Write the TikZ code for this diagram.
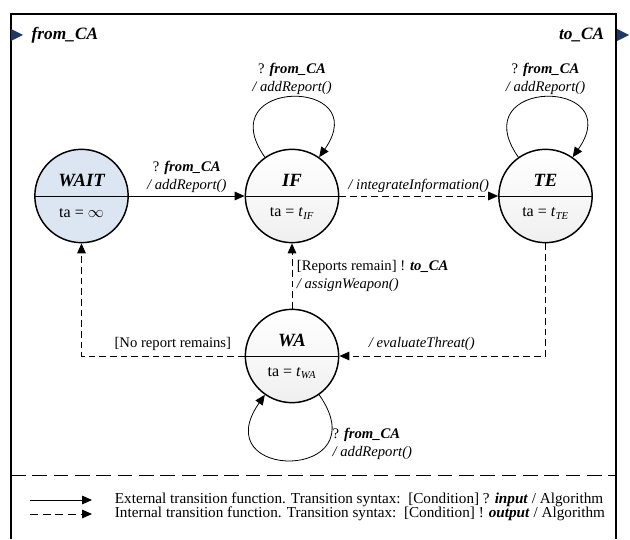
\documentclass[tikz,border=0pt]{standalone}
\usepackage{fontspec}
\setmainfont{Liberation Serif}
\usetikzlibrary{positioning,arrows.meta}

\definecolor{waitblue}{RGB}{220,230,242}
\definecolor{portblue}{RGB}{31,56,100}

\newcommand{\bi}[1]{\textbf{\textit{#1}}}

\begin{document}
\begin{tikzpicture}[x=0.75pt,y=0.75pt,>={Triangle[length=7.5pt,width=6.5pt]},
                    every node/.style={font=\fontsize{11}{13.5}\selectfont},
                    phase/.style={circle,draw,line width=1.1pt,minimum size=70pt,inner sep=0pt,
                                  top color=white,bottom color=black!6},
                    idle/.style={circle,draw,line width=1.1pt,minimum size=70pt,inner sep=0pt,fill=waitblue},
                    title/.style={font=\fontsize{14}{16}\selectfont\bfseries\itshape},
                    ext/.style={->,line width=0.7pt},
                    int/.style={->,line width=0.7pt,dash pattern=on 5pt off 3pt},
                    lbl/.style={align=center,inner sep=2pt}]
  \useasboundingbox (0,0) rectangle (630,539);

  % frame and ports
  \draw[line width=1.2pt] (11,0) -- (11,525) -- (616,525) -- (616,0);
  \fill[portblue] (11,510) -- (23,504) -- (11,498) -- cycle;
  \fill[portblue] (617,510) -- (629,504) -- (617,498) -- cycle;
  \node[anchor=west,font=\fontsize{13}{15}\selectfont] (fromca) at (27,504) {\bi{from\_CA}};
  \node[anchor=east,font=\fontsize{13}{15}\selectfont] (toca)   at (609,504) {\bi{to\_CA}};

  % phases
  \node[idle]  (wait) at (81.5,343)  {};
  \node[phase] (if)   at (292,343)   {};
  \node[phase] (te)   at (545.5,343) {};
  \node[phase] (wa)   at (292,183)   {};

  \foreach \n/\name/\ta in {wait/WAIT/{$\infty$},
                            if/IF/{\textit{t}\textsubscript{\textit{IF}}},
                            te/TE/{\textit{t}\textsubscript{\textit{TE}}},
                            wa/WA/{\textit{t}\textsubscript{\textit{WA}}}}
  {
    \draw[line width=0.7pt] (\n.west) -- (\n.east);
    \node[title] (\n-name) at ([yshift=12pt]\n.center) {\name};
    \node[font=\fontsize{12}{14}\selectfont] (\n-ta) at ([yshift=-13pt]\n.center) {ta = \ta};
  }

  % transitions
  \draw[ext] (wait) -- node[above,lbl] {? \bi{from\_CA}\\\textit{/ addReport()}} (if);
  \draw[int] (if) -- node[above,lbl] {\textit{/ integrateInformation()}} (te);
  \draw[int] (wa) -- node[right,align=left] {[Reports remain] ! \bi{to\_CA}\\\textit{/ assignWeapon()}} (if);
  \draw[int] (wa) -| node[pos=0.22,above] {[No report remains]} (wait);
  \draw[int] (te) |- node[pos=0.8,above] {\textit{/ evaluateThreat()}} (wa);

  \draw[ext,line width=0.6pt] (if) to[out=125,in=55,looseness=4.6]
        node[above,lbl] {? \bi{from\_CA}\\\textit{/ addReport()}} (if);
  \draw[ext,line width=0.6pt] (te) to[out=125,in=55,looseness=4.6]
        node[above,lbl] {? \bi{from\_CA}\\\textit{/ addReport()}} (te);
  \draw[ext,line width=0.6pt] (wa) to[out=-55,in=-125,looseness=5]
        node[pos=0.25,anchor=west,align=left] {? \bi{from\_CA}\\\textit{/ addReport()}} (wa);

  % legend
  \draw[line width=0.6pt,dash pattern=on 11pt off 5pt] (11,64) -- (616,64);
  \coordinate (exta) at (30,39);
  \coordinate (extb) at (92,39);
  \coordinate (inta) at (30,25);
  \coordinate (intb) at (92,25);
  \draw[ext] (exta) -- (extb);
  \draw[->,line width=0.7pt,dash pattern=on 6pt off 3.5pt] (inta) -- (intb);
  \node[right=17pt of extb,inner sep=0pt,font=\fontsize{11.4}{13}\selectfont] (exttxt)
       {External transition function. Transition syntax:\ \ [Condition] ? \bi{input} / Algorithm};
  \node[right=17pt of intb,inner sep=0pt,font=\fontsize{11.4}{13}\selectfont] (inttxt)
       {Internal transition function. Transition syntax:\ \ [Condition] ! \bi{output} / Algorithm};
\end{tikzpicture}
\end{document}
